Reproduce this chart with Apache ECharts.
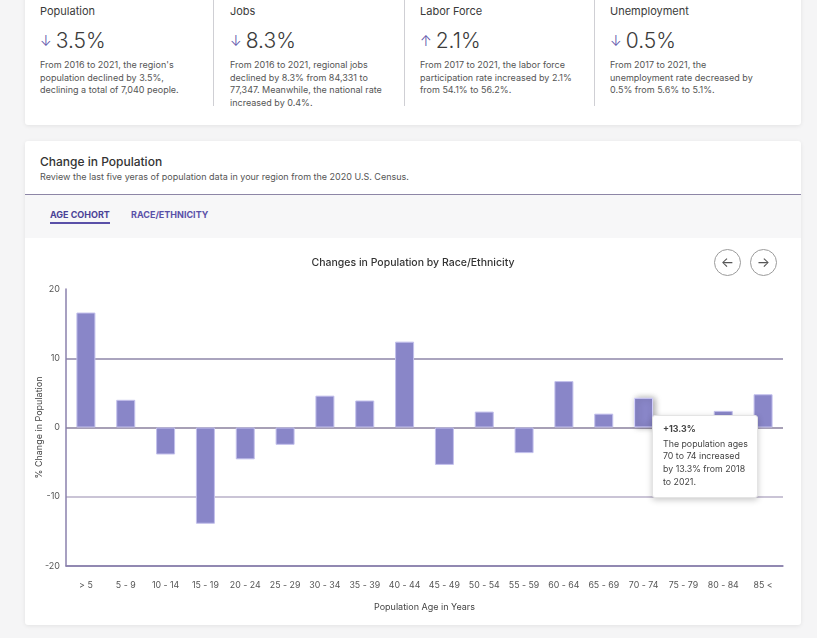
<!DOCTYPE html>
<html>
<head>
<meta charset="utf-8">
<script src="https://cdn.jsdelivr.net/npm/echarts@6/dist/echarts.min.js"></script>
<style>
  body { margin: 0; background: #f5f5f6; font-family: Inter, "Noto Sans", sans-serif; color: #333; width: 817px; height: 638px; overflow: hidden; position: relative; }
  .card { position: absolute; background: #fff; box-shadow: 0 1px 4px rgba(0,0,0,0.08); border-radius: 3px; }
  #stats { left: 25px; top: -10px; width: 776px; height: 135px; }
  .col { position: absolute; top: 10px; height: 106px; width: 174px; padding-left: 16px; border-right: 1px solid #cfcfd4; }
  .col:last-child { border-right: none; }
  .col .t { position: absolute; top: 4px; font-size: 11px; color: #3a3a3a; }
  .col .big { position: absolute; top: 28px; font-size: 21px; font-weight: 300; color: #3c3c3c; white-space: nowrap; }
  .col .big span { color: #5a4fa8; font-size: 14px; margin-right: 4px; position: relative; top: -2px; }
  .col .d { position: absolute; top: 59px; font-size: 9px; line-height: 12.7px; color: #555; white-space: nowrap; }
  #main { left: 25px; top: 141px; width: 776px; height: 484px; }
  #main .h { position: absolute; left: 15px; top: 13px; font-size: 12px; font-weight: 500; color: #333; }
  #main .s { position: absolute; left: 15px; top: 30px; font-size: 9px; color: #555; }
  #tabs { position: absolute; left: 0; top: 53px; width: 776px; height: 43px; background: #f7f7f8; border-top: 1.5px solid #8d86a6; }
  .tab { position: absolute; top: 14px; font-size: 9px; font-weight: 700; color: #5a50a8; }
  .tab.on { color: #4a4196; border-bottom: 2px solid #5a50a8; padding-bottom: 2px; }
  #chart { position: absolute; left: 0; top: 96px; width: 776px; height: 388px; }
  .nav { position: absolute; top: 108px; width: 25px; height: 25px; border: 1px solid #9a9a9a; border-radius: 50%; text-align: center; line-height: 24px; font-size: 14px; color: #555; background: #fff; z-index: 2; }
</style>
</head>
<body>
<div class="card" id="stats">
  <div class="col" style="left:0;width:173px;padding-left:15px;">
    <div class="t">Population</div>
    <div class="big"><span>&#8595;</span>3.5%</div>
    <div class="d">From 2016 to 2021, the region's<br>population declined by 3.5%,<br>declining a total of 7,040 people.</div>
  </div>
  <div class="col" style="left:189px;">
    <div class="t">Jobs</div>
    <div class="big"><span>&#8595;</span>8.3%</div>
    <div class="d">From 2016 to 2021, regional jobs<br>declined by 8.3% from 84,331 to<br>77,347. Meanwhile, the national rate<br>increased by 0.4%.</div>
  </div>
  <div class="col" style="left:379px;">
    <div class="t">Labor Force</div>
    <div class="big"><span>&#8593;</span>2.1%</div>
    <div class="d">From 2017 to 2021, the labor force<br>participation rate increased by 2.1%<br>from 54.1% to 56.2%.</div>
  </div>
  <div class="col" style="left:569px;">
    <div class="t">Unemployment</div>
    <div class="big"><span>&#8595;</span>0.5%</div>
    <div class="d">From 2017 to 2021, the<br>unemployment rate decreased by<br>0.5% from 5.6% to 5.1%.</div>
  </div>
</div>

<div class="card" id="main">
  <div class="h">Change in Population</div>
  <div class="s">Review the last five yeras of population data in your region from the 2020 U.S. Census.</div>
  <div id="tabs">
    <div class="tab on" style="left:25px;">AGE COHORT</div>
    <div class="tab" style="left:106px;">RACE/ETHNICITY</div>
  </div>
  <div class="nav" style="left:689px;">&#8592;</div>
  <div class="nav" style="left:725px;">&#8594;</div>
  <div id="chart"></div>
</div>

<script>
// age groups on the x axis
var ageGroups = ['> 5', '5 - 9', '10 - 14', '15 - 19', '20 - 24', '25 - 29', '30 - 34', '35 - 39', '40 - 44',
                 '45 - 49', '50 - 54', '55 - 59', '60 - 64', '65 - 69', '70 - 74', '75 - 79', '80 - 84', '85 <'];
// % change per age group
var pctChange = [16.6, 4.0, -3.9, -13.9, -4.6, -2.5, 4.6, 3.9, 12.4, -5.4, 2.3, -3.7, 6.7, 2.0, 4.3, 0, 2.4, 4.8];
// y axis
var yMin = -20, yMax = 20, yStep = 10;
// tooltip shown in the picture
var tipIndex = 14;
var tipValue = 13.3;
var tipYears = ['2018', '2021'];

var chart = echarts.init(document.getElementById('chart'));
var option = {
  textStyle: { fontFamily: 'Inter' },
  title: {
    text: 'Changes in Population by Race/Ethnicity',
    left: 'center',
    top: 15,
    textStyle: { fontSize: 10.5, fontWeight: 500, color: '#333' }
  },
  grid: { left: 41, right: 18, top: 52, bottom: 59, outerBoundsMode: 'none', containLabel: false },
  tooltip: {
    trigger: 'item',
    alwaysShowContent: true,
    transitionDuration: 0,
    backgroundColor: '#fff',
    borderColor: '#e4e4e4',
    borderWidth: 1,
    padding: [7, 6, 8, 10],
    position: [627, 178],
    extraCssText: 'box-shadow:0 2px 6px rgba(0,0,0,0.22);border-radius:3px;',
    formatter: function (p) {
      var ages = p.name.replace(' - ', ' to ');
      return '<div style="width:88px;white-space:normal;font-size:8.8px;line-height:12.7px;color:#444;">' +
        '<div style="font-weight:700;margin-bottom:2px;">+' + tipValue.toFixed(1) + '%</div>' +
        'The population ages ' + ages + ' increased by ' + tipValue.toFixed(1) + '% from ' +
        tipYears[0] + ' to ' + tipYears[1] + '.</div>';
    }
  },
  xAxis: {
    type: 'category',
    data: ageGroups,
    name: 'Population Age in Years',
    nameLocation: 'middle',
    nameGap: 37,
    nameMoveOverlap: false,
    nameTextStyle: { fontSize: 9, color: '#444' },
    axisLine: { onZero: false, lineStyle: { color: '#8a80ac', width: 1.5 } },
    axisTick: { show: false },
    axisLabel: { interval: 0, fontSize: 8.8, color: '#555', margin: 15 }
  },
  yAxis: {
    type: 'value',
    min: yMin,
    max: yMax,
    interval: yStep,
    name: '% Change in Population',
    nameLocation: 'middle',
    nameGap: 22,
    nameMoveOverlap: false,
    nameTextStyle: { fontSize: 9, color: '#444' },
    axisLine: { show: true, lineStyle: { color: '#8a80ac', width: 1.5 } },
    axisTick: { show: false },
    axisLabel: { fontSize: 9, color: '#555', margin: 6 },
    splitLine: {
      lineStyle: {
        width: 1.5,
        color: ['#8a80ac', '#b9b1c9', '#8a819e', '#8e86a8', 'rgba(0,0,0,0)']
      }
    }
  },
  series: [{
    type: 'bar',
    data: pctChange,
    barWidth: 19,
    itemStyle: { color: '#8986c8', borderColor: '#c3c0ec', borderWidth: 1 },
    emphasis: {
      itemStyle: { color: '#8986c8', shadowBlur: 6, shadowOffsetX: 2, shadowColor: 'rgba(0,0,0,0.35)' }
    }
  }]
};
chart.setOption(option);
chart.dispatchAction({ type: 'highlight', seriesIndex: 0, dataIndex: tipIndex });
chart.dispatchAction({ type: 'showTip', seriesIndex: 0, dataIndex: tipIndex });
</script>
</body>
</html>
